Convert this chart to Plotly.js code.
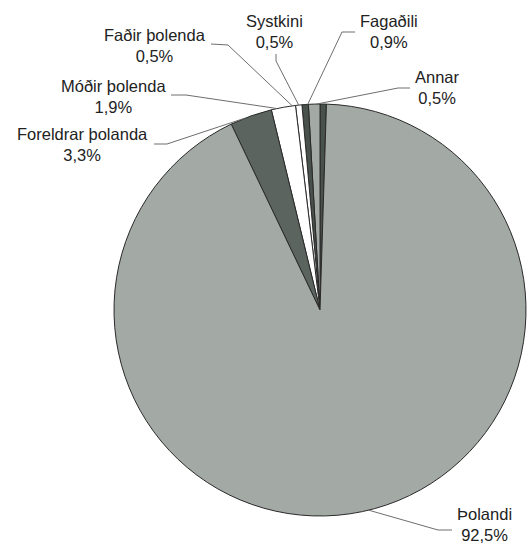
<!DOCTYPE html>
<html><head><meta charset="utf-8">
<script src="https://cdn.plot.ly/plotly-3.0.1.min.js"></script>
<style>html,body{margin:0;padding:0;background:#fff}</style>
</head><body><div id="chart" style="width:527px;height:546px"></div>
<script>
// Data (counter-clockwise from 12 o'clock)
const labels = ['Annar', 'Fagaðili', 'Systkini', 'Faðir þolenda', 'Móðir þolenda', 'Foreldrar þolanda', 'Þolandi'];
const values = [0.5, 0.9, 0.5, 0.5, 1.9, 3.3, 92.5];
const valueText = ['0,5%', '0,9%', '0,5%', '0,5%', '1,9%', '3,3%', '92,5%'];

// Styles
const sliceColors = ['#48514c', '#a3a9a5', '#48514c', '#ffffff', '#ffffff', '#5b645f', '#a3a9a5'];
const W = 527, H = 546;
const cx = 320, cy = 310, R = 206;           // pie centre & radius in px
// label placement (text centre, leader start, leader elbow) in px
const labelPos = [
  {tx: 437, ty: 88,  sx: 410, sy: 88,  ex: 398, ey: 88},
  {tx: 389, ty: 31,  sx: 355, sy: 32,  ex: 342, ey: 32},
  {tx: 274, ty: 31,  sx: 276, sy: 54,  ex: 276, ey: 61},
  {tx: 155, ty: 45,  sx: 211, sy: 44,  ex: 228, ey: 45},
  {tx: 113, ty: 96,  sx: 171, sy: 95,  ex: 186, ey: 95},
  {tx: 82,  ty: 145, sx: 154, sy: 144, ex: 167, ey: 144},
  {tx: 484, ty: 524, sx: 452, sy: 530, ex: 438, ey: 530}
];

const px = x => x / W;
const py = y => 1 - y / H;

const total = values.reduce((a, b) => a + b, 0);
let cum = 0;
const annotations = [], shapes = [];
values.forEach((v, i) => {
  const mid = (cum + v / 2) / total * 2 * Math.PI;
  cum += v;
  const ax = cx - R * Math.sin(mid), ay = cy - R * Math.cos(mid);
  const p = labelPos[i];
  shapes.push({
    type: 'path', xref: 'paper', yref: 'paper',
    path: `M ${px(p.sx)} ${py(p.sy)} L ${px(p.ex)} ${py(p.ey)} L ${px(ax)} ${py(ay)}`,
    line: {color: '#6e6e6e', width: 1}
  });
  annotations.push({
    xref: 'paper', yref: 'paper', x: px(p.tx), y: py(p.ty),
    xanchor: 'center', yanchor: 'middle', showarrow: false,
    text: labels[i] + '<br>' + valueText[i],
    font: {family: 'Liberation Sans, Arial, sans-serif', size: 16.5, color: '#222222'}
  });
});

const trace = {
  type: 'pie', labels: labels, values: values, sort: false,
  direction: 'counterclockwise', rotation: 0,
  marker: {colors: sliceColors, line: {color: '#2a2a2a', width: 1}},
  textinfo: 'none', hoverinfo: 'label+percent',
  domain: {x: [px(cx - R), px(cx + R)], y: [py(cy + R), py(cy - R)]}
};

Plotly.newPlot('chart', [trace], {
  width: W, height: H, margin: {l: 0, r: 0, t: 0, b: 0},
  paper_bgcolor: '#ffffff', showlegend: false,
  annotations: annotations, shapes: shapes
}, {displayModeBar: false});
</script></body></html>
